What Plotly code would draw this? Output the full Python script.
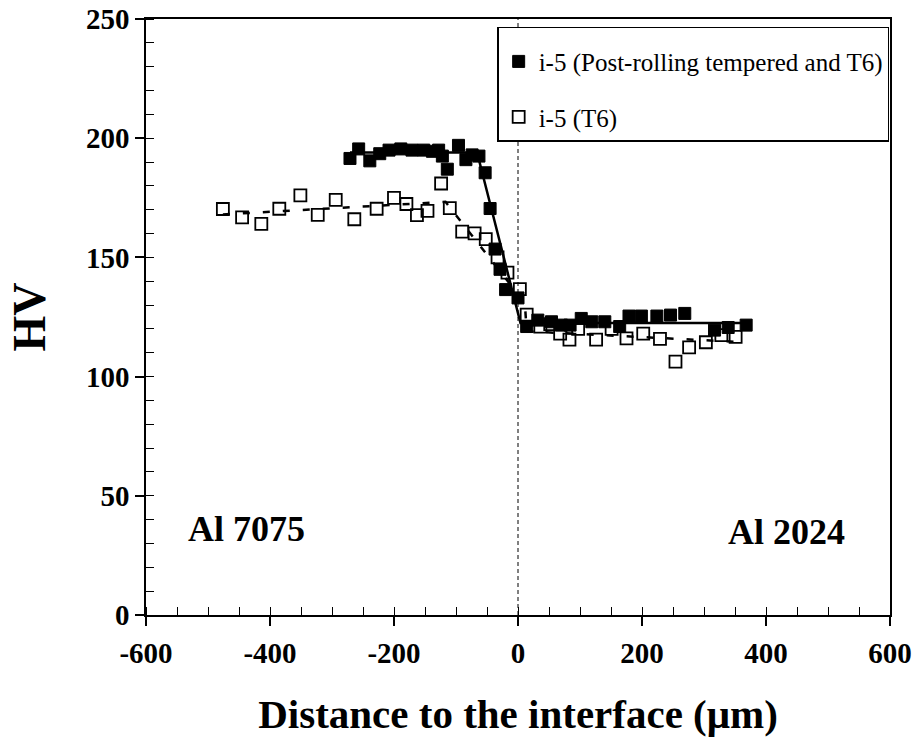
import plotly.graph_objects as go

# Series 1: i-5 (Post-rolling tempered and T6) - filled squares
x_prt = [-271, -257, -239, -223, -208, -189, -171, -152, -138, -128, -122, -114, -96, -84, -74, -63,
         -53, -45, -37, -29, -20, 0, 14, 32, 54, 70, 84, 102, 119, 140, 164, 179, 199, 224, 246,
         269, 317, 339, 368]
y_prt = [191.5, 195.5, 190.5, 193.5, 195, 195.5, 195, 195, 194.5, 195, 192.5, 187, 197, 191, 193, 192.5,
         185.5, 170.5, 153.5, 145, 136.5, 133, 121, 123.7, 123, 121.6, 121.6, 124.4, 123, 123, 121, 125.4,
         125.4, 125.4, 125.8, 126.5, 119.5, 120.6, 121.6]

# Series 2: i-5 (T6) - open squares
x_t6 = [-476, -445, -414, -385, -351, -323, -294, -264, -228, -200, -180, -163, -146, -124, -110,
        -90, -70, -52, -33, -17, 3, 14, 36, 52, 68, 83, 97, 126, 151, 175, 202, 229, 254, 276,
        303, 328, 351]
y_t6 = [170.3, 166.8, 164.1, 170.4, 176.0, 167.8, 174.1, 166, 170.4, 175, 172.4, 167.7, 169.5, 181,
        170.7, 160.8, 160.1, 157.7, 150, 143.6, 136.7, 126, 121, 122, 118, 115.5, 120, 115.5, 120,
        116, 118, 115.8, 106.3, 112.3, 114.4, 117.4, 116.7]

# Trend lines
fit_prt_x = [-271, -66, 4, 370]
fit_prt_y = [194, 194, 122.5, 122.5]
fit_t6_x = [-476, -117, 11, 14, 360]
fit_t6_y = [168, 173.3, 131, 119, 114.5]

x_ticks = [-600, -400, -200, 0, 200, 400, 600]
y_ticks = [0, 50, 100, 150, 200, 250]

FONT = "Liberation Serif, Times New Roman, serif"

fig = go.Figure()
fig.add_trace(go.Scatter(x=fit_prt_x, y=fit_prt_y, mode="lines",
                         line=dict(color="black", width=2.5), showlegend=False, hoverinfo="skip"))
fig.add_trace(go.Scatter(x=fit_t6_x, y=fit_t6_y, mode="lines",
                         line=dict(color="black", width=2.5, dash="7px,13px"), showlegend=False,
                         hoverinfo="skip"))
fig.add_trace(go.Scatter(x=x_prt, y=y_prt, mode="markers", name="i-5 (Post-rolling tempered and T6)",
                         legendgroup="a",
                         marker=dict(symbol="square", size=12, color="black", line=dict(color="black", width=1))))
fig.add_trace(go.Scatter(x=x_t6, y=y_t6, mode="markers", name="i-5 (T6)", legendgroup="b",
                         marker=dict(symbol="square-open", size=12, color="black", line=dict(width=1.8))))

fig.add_shape(type="line", x0=0, x1=0, y0=0, y1=250, xref="x", yref="y",
              line=dict(color="black", width=1, dash="4px,3px"))

fig.add_annotation(x=-438, y=36, text="<b>Al 7075</b>", showarrow=False,
                   font=dict(family=FONT, size=36, color="black"))
fig.add_annotation(x=433, y=35, text="<b>Al 2024</b>", showarrow=False,
                   font=dict(family=FONT, size=36, color="black"))

axis_common = dict(showline=True, linecolor="black", linewidth=1.5, mirror=True, showgrid=False,
                   zeroline=False, ticks="outside", ticklen=9, tickcolor="black", tickwidth=1.5,
                   automargin=False,
                   tickfont=dict(family=FONT, size=29, color="black", weight="bold"))

fig.update_xaxes(range=[-600, 600], tickvals=x_ticks, ticktext=[str(v) for v in x_ticks],
                 minor=dict(dtick=50, ticks="inside", ticklen=8, tickcolor="black", tickwidth=1),
                 title=dict(text="Distance to the interface (μm)",
                            font=dict(family=FONT, size=41, color="black", weight="bold"), standoff=32),
                 ticklabelstandoff=2,
                 **axis_common)
fig.update_yaxes(range=[0, 250], tickvals=y_ticks, ticktext=[str(v) for v in y_ticks],
                 minor=dict(dtick=10, ticks="inside", ticklen=8, tickcolor="black", tickwidth=1),
                 title=dict(text="HV", font=dict(family=FONT, size=46, color="black", weight="bold"), standoff=26),
                 ticklabelstandoff=0,
                 **axis_common)

fig.update_layout(
    width=920, height=749,
    margin=dict(l=146, r=30, t=19, b=134),
    paper_bgcolor="white", plot_bgcolor="white",
    legend=dict(x=0.472, y=0.987, xanchor="left", yanchor="top", bgcolor="white",
                bordercolor="black", borderwidth=1.5, tracegroupgap=20,
                title=dict(text=" ", font=dict(family=FONT, size=8)),
                font=dict(family=FONT, size=25, color="black"), itemwidth=30),
    showlegend=True,
)

fig.write_html("out.html")
